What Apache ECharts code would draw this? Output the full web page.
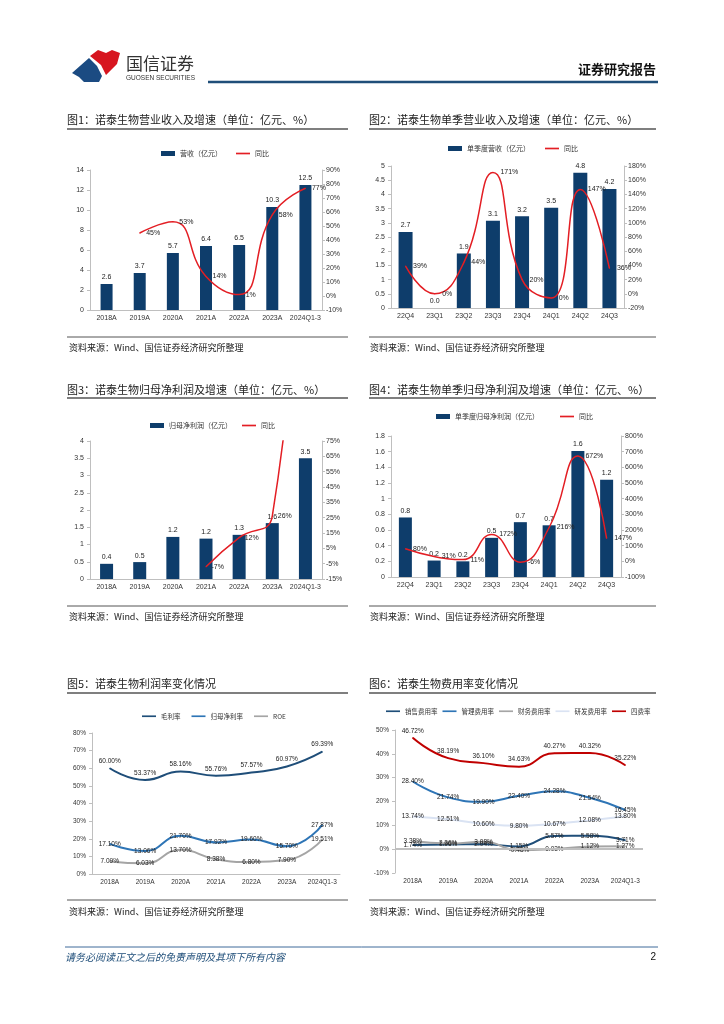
<!DOCTYPE html>
<html><head><meta charset="utf-8">
<script src="https://cdn.jsdelivr.net/npm/echarts@6/dist/echarts.min.js"></script>
<style>html,body{margin:0;padding:0;background:#fff}#c{width:724px;height:1024px}</style>
</head><body><div id="c"></div>
<script>
// ---------- data ----------
const yearCats = ['2018A','2019A','2020A','2021A','2022A','2023A','2024Q1-3'];
const quarterCats = ['22Q4','23Q1','23Q2','23Q3','23Q4','24Q1','24Q2','24Q3'];

const revenue = [2.6, 3.7, 5.7, 6.4, 6.5, 10.3, 12.5];
const revenueYoy = [null, 45, 53, 14, 1, 58, 77];

const qRevenue = [2.68, 0.0, 1.92, 3.07, 3.23, 3.53, 4.76, 4.19];
const qRevenueYoy = [39, 0, 44, 171, 20, -6, 147, 36];
const qRevenueYoyText = ['39%','0%','44%','171%','20%','0%','147%','36%'];

const profit = [0.44, 0.49, 1.22, 1.17, 1.28, 1.62, 3.50];
const profitYoy = [null, null, null, -7, 12, 26, 280];

const qProfit = [0.76, 0.21, 0.20, 0.50, 0.70, 0.66, 1.61, 1.24];
const qProfitYoy = [80, 31, 11, 172, -6, 216, 672, 147];

const grossMargin = [60.00, 53.37, 58.16, 55.76, 57.57, 60.97, 69.39];
const netMargin = [17.10, 13.06, 21.70, 17.92, 19.60, 15.70, 27.87];
const roe = [7.09, 6.03, 13.70, 8.38, 6.80, 7.90, 19.51];

const sellRate = [1.74, 1.96, 2.04, 1.15, 5.57, 5.58, 3.71];
const mgmtRate = [28.40, 21.74, 19.90, 22.40, 24.28, 21.54, 16.45];
const finRate = [3.38, 2.36, 3.08, -0.48, 0.03, 1.12, 1.27];
const rdRate = [13.74, 12.51, 10.60, 9.80, 10.67, 12.08, 13.80];
const totalRate = [46.72, 38.19, 36.10, 34.63, 40.27, 40.32, 35.22];

// ---------- styles ----------
const NAVY = '#0E3D6B';
const RED = '#E31E24';
const NUM = '"Liberation Sans", Arial, sans-serif';
const CJK = '"Noto Sans CJK SC", sans-serif';
const AX = '#BFBFBF';
const LINEICON = 'path://M0,0L10,0L10,1.2L0,1.2Z';

const chart = echarts.init(document.getElementById('c'), null, {renderer: 'canvas', width: 724, height: 1024});

const grids = [
  {left: 90, top: 170, width: 232, height: 140},
  {left: 391, top: 166, width: 233, height: 142},
  {left: 90, top: 441, width: 232, height: 138},
  {left: 391, top: 436, width: 230, height: 141},
  {left: 92, top: 733, width: 248, height: 141},
  {left: 395, top: 730, width: 248, height: 143}
].map(g => Object.assign({outerBoundsMode: 'none', containLabel: false}, g));

function xAx(i, cats, fs, lineShow) {
  return {type: 'category', gridIndex: i, data: cats,
    axisLine: {show: lineShow, onZero: false, lineStyle: {color: AX}},
    axisTick: {show: false},
    axisLabel: {interval: 0, fontSize: fs, color: '#333', fontFamily: NUM, margin: 5}};
}
function yAx(i, min, max, interval, pos, fmt, fs) {
  return {type: 'value', gridIndex: i, position: pos, min: min, max: max, interval: interval,
    axisLine: {show: true, lineStyle: {color: AX}},
    axisTick: {show: true, length: 3, lineStyle: {color: AX}},
    splitLine: {show: false},
    axisLabel: {fontSize: fs, color: '#333', fontFamily: NUM, margin: pos === 'left' ? 6 : 4, formatter: fmt}};
}
const pct = '{value}%';

const xAxes = [
  xAx(0, yearCats, 7, true), xAx(1, quarterCats, 7, true), xAx(2, yearCats, 7, true),
  xAx(3, quarterCats, 7, true), xAx(4, yearCats, 6.5, true), xAx(5, yearCats, 6.5, false)
];
const yAxes = [
  yAx(0, 0, 14, 2, 'left', '{value}', 7), yAx(0, -10, 90, 10, 'right', pct, 7),
  yAx(1, 0, 5, 0.5, 'left', '{value}', 7), yAx(1, -20, 180, 20, 'right', pct, 7),
  yAx(2, 0, 4, 0.5, 'left', '{value}', 7), yAx(2, -15, 75, 10, 'right', pct, 7),
  yAx(3, 0, 1.8, 0.2, 'left', '{value}', 7), yAx(3, -100, 800, 100, 'right', pct, 7),
  yAx(4, 0, 80, 10, 'left', pct, 6.5),
  yAx(5, -10, 50, 10, 'left', pct, 6.5)
];

function barSeries(name, xi, yi, data, w) {
  return {type: 'bar', name: name, xAxisIndex: xi, yAxisIndex: yi, data: data, barWidth: w,
    itemStyle: {color: NAVY},
    label: {show: true, position: 'top', distance: 3, fontSize: 7, color: '#222', fontFamily: NUM,
      formatter: p => Number(p.value).toFixed(1)}};
}
function yoySeries(xi, yi, data, fmt, dist) {
  return {type: 'line', name: '同比', xAxisIndex: xi, yAxisIndex: yi, data: data, smooth: true,
    symbol: 'circle', symbolSize: 1, showSymbol: true, clip: true,
    itemStyle: {color: RED}, lineStyle: {color: RED, width: 1.5},
    label: {show: true, position: 'right', distance: dist, fontSize: 7, color: '#222', fontFamily: NUM, formatter: fmt}};
}
function rateSeries(name, xi, yi, data, color, width, pos) {
  return {type: 'line', name: name, xAxisIndex: xi, yAxisIndex: yi, data: data, smooth: true,
    symbol: 'circle', symbolSize: 1, showSymbol: true,
    itemStyle: {color: color}, lineStyle: {color: color, width: width},
    label: {show: true, position: pos, distance: 3, fontSize: 6.5, color: '#222', fontFamily: NUM,
      formatter: p => Number(p.value).toFixed(2) + '%'}};
}

const series = [
  barSeries('营收（亿元）', 0, 0, revenue, 12),
  yoySeries(0, 1, revenueYoy, p => p.value + '%', 6),
  barSeries('单季度营收（亿元）', 1, 2, qRevenue, 14),
  yoySeries(1, 3, qRevenueYoy, p => qRevenueYoyText[p.dataIndex], 7),
  barSeries('归母净利润（亿元）', 2, 4, profit, 13),
  yoySeries(2, 5, profitYoy.map(v => (v !== null && v > 75) ? {value: v, label: {show: false}} : v), p => p.value + '%', 5),
  barSeries('单季度归母净利润（亿元）', 3, 6, qProfit, 13),
  yoySeries(3, 7, qProfitYoy, p => p.value + '%', 7),
  rateSeries('毛利率', 4, 8, grossMargin, '#1F4E79', 2, 'top'),
  rateSeries('归母净利率', 4, 8, netMargin, '#2E75B6', 2, 'inside'),
  rateSeries('ROE', 4, 8, roe, '#A5A5A5', 2, 'inside'),
  rateSeries('销售费用率', 5, 9, sellRate, '#1F4E79', 2, 'inside'),
  rateSeries('管理费用率', 5, 9, mgmtRate, '#2E75B6', 2, 'inside'),
  rateSeries('财务费用率', 5, 9, finRate, '#A5A5A5', 2, 'inside'),
  rateSeries('研发费用率', 5, 9, rdRate, '#DAE3F3', 2, 'inside'),
  Object.assign(rateSeries('四费率', 5, 9, totalRate, '#C00000', 2, 'top'), {
    markLine: {silent: true, symbol: 'none', label: {show: false}, animation: false,
      lineStyle: {color: '#BFBFBF', width: 2, type: 'solid'}, data: [{yAxis: 0}]}})
];

function legend(left, top, gap, fs, items) {
  return {left: left, top: top, itemWidth: 14, itemHeight: 5, itemGap: gap, orient: 'horizontal',
    selectedMode: false, padding: 0,
    textStyle: {fontSize: fs, color: '#333', fontFamily: CJK},
    data: items.map(it => ({name: it[0], icon: it[1] ? 'rect' : LINEICON}))};
}
const legends = [
  legend(161, 150, 14, 7, [['营收（亿元）', 1], ['同比', 0]]),
  legend(448, 145, 15, 7, [['单季度营收（亿元）', 1], ['同比', 0]]),
  legend(150, 422, 10, 7, [['归母净利润（亿元）', 1], ['同比', 0]]),
  legend(436, 413, 21, 7, [['单季度归母净利润（亿元）', 1], ['同比', 0]]),
  legend(142, 713, 11, 6.5, [['毛利率', 0], ['归母净利率', 0], ['ROE', 0]]),
  legend(386, 708, 5, 6.5, [['销售费用率', 0], ['管理费用率', 0], ['财务费用率', 0], ['研发费用率', 0], ['四费率', 0]])
];

// ---------- page decoration ----------
function txt(x, y, text, font, fill, align) {
  return {type: 'text', silent: true, style: {x: x, y: y, text: text, font: font, fill: fill || '#222',
    align: align || 'left', verticalAlign: 'middle'}};
}
function hline(x1, x2, y, color, w) {
  return {type: 'line', silent: true, shape: {x1: x1, y1: y, x2: x2, y2: y}, style: {stroke: color, lineWidth: w}};
}
const titleFont = '11px ' + CJK;
const srcFont = '9px ' + CJK;
const srcText = '资料来源：Wind、国信证券经济研究所整理';
const graphics = [
  // logo
  {type: 'polygon', silent: true, shape: {points: [[72,73],[89,58],[97,66],[102,76],[99,82],[84,82],[79,77]]}, style: {fill: '#1B4B82'}},
  {type: 'polygon', silent: true, shape: {points: [[90,56],[98,50],[106,53],[112,50],[120,53],[117,64],[106,75],[101,65]]}, style: {fill: '#D7151F'}},
  txt(126, 64, '国信证券', '17px ' + CJK, '#333'),
  txt(126, 78, 'GUOSEN SECURITIES', '6.5px ' + NUM, '#333'),
  txt(656, 69, '证券研究报告', 'bold 13px ' + CJK, '#111', 'right'),
  hline(208, 658, 82, '#1F4E79', 2.5),
  // titles
  txt(67, 120, '图1：诺泰生物营业收入及增速（单位：亿元、%）', titleFont),
  txt(369, 120, '图2：诺泰生物单季营业收入及增速（单位：亿元、%）', titleFont),
  txt(67, 390, '图3：诺泰生物归母净利润及增速（单位：亿元、%）', titleFont),
  txt(369, 390, '图4：诺泰生物单季归母净利润及增速（单位：亿元、%）', titleFont),
  txt(67, 684, '图5：诺泰生物利润率变化情况', titleFont),
  txt(369, 684, '图6：诺泰生物费用率变化情况', titleFont),
  hline(67, 348, 129, '#555', 1.5), hline(369, 656, 129, '#555', 1.5),
  hline(67, 348, 398, '#555', 1.5), hline(369, 656, 398, '#555', 1.5),
  hline(67, 348, 693, '#555', 1.5), hline(369, 656, 693, '#555', 1.5),
  // sources
  hline(67, 348, 337, '#555', 1), hline(369, 656, 337, '#555', 1),
  hline(67, 348, 606, '#555', 1), hline(369, 656, 606, '#555', 1),
  hline(67, 348, 900, '#555', 1), hline(369, 656, 900, '#555', 1),
  txt(69, 348, srcText, srcFont), txt(370, 348, srcText, srcFont),
  txt(69, 617, srcText, srcFont), txt(370, 617, srcText, srcFont),
  txt(69, 912, srcText, srcFont), txt(370, 912, srcText, srcFont),
  // footer
  hline(65, 658, 947, '#3E6A9A', 1),
  txt(65, 957, '请务必阅读正文之后的免责声明及其项下所有内容', 'italic 10px ' + CJK, '#1F4E79'),
  txt(656, 957, '2', '10px ' + NUM, '#111', 'right')
];

chart.setOption({
  animation: false,
  backgroundColor: '#fff',
  grid: grids,
  xAxis: xAxes,
  yAxis: yAxes,
  legend: legends,
  series: series,
  graphic: graphics
});
</script>
</body></html>
